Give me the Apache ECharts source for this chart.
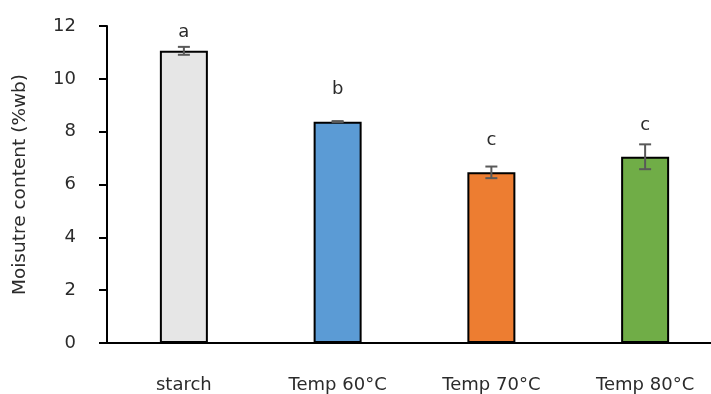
<!DOCTYPE html>
<html><head><meta charset="utf-8">
<script src="https://cdn.jsdelivr.net/npm/echarts@6/dist/echarts.min.js"></script>
<style>html,body{margin:0;padding:0;background:#fff}#c{width:711px;height:394px}</style>
</head><body><div id="c"></div>
<script>
const categories = ['starch', 'Temp 60°C', 'Temp 70°C', 'Temp 80°C'];
const values = [11.06, 8.38, 6.46, 7.05];
const errors = [0.15, 0.02, 0.22, 0.47];
const letters = ['a', 'b', 'c', 'c'];
const letterPos = [11.75, 9.6, 7.67, 8.24];
const barColors = ['#e6e6e6', '#5b9bd5', '#ed7d31', '#70ad47'];
const yTicks = [0, 2, 4, 6, 8, 10, 12];

const font = 'DejaVu Sans, sans-serif';
const txt = '#2b2b2b';
const chart = echarts.init(document.getElementById('c'), null, {renderer: 'canvas'});
chart.setOption({
  animation: false,
  grid: {left: 107, width: 615, top: 26, bottom: 51, containLabel: false, outerBoundsMode: 'none'},
  xAxis: {
    type: 'category', data: categories,
    axisLine: {lineStyle: {color: '#000', width: 2}},
    axisTick: {show: false},
    axisLabel: {color: txt, fontSize: 18, fontFamily: font, margin: 33}
  },
  yAxis: {
    type: 'value', min: yTicks[0], max: yTicks[yTicks.length - 1], interval: 2,
    name: 'Moisutre content (%wb)', nameLocation: 'middle', nameGap: 77,
    nameTextStyle: {color: txt, fontSize: 18.5, fontFamily: font},
    axisLine: {show: true, lineStyle: {color: '#000', width: 2}},
    axisTick: {show: true, length: 8, lineStyle: {color: '#000', width: 2}},
    axisLabel: {color: txt, fontSize: 18, fontFamily: font, margin: 31},
    splitLine: {show: false}
  },
  series: [
    {
      type: 'bar', barWidth: 48,
      data: values.map((v, i) => ({value: v, itemStyle: {color: barColors[i], borderColor: '#000', borderWidth: 2}}))
    },
    {
      type: 'custom', z: 5,
      data: values.map((v, i) => [i, v - errors[i], v + errors[i]]),
      renderItem: function (params, api) {
        const lo = api.coord([api.value(0), api.value(1)]);
        const hi = api.coord([api.value(0), api.value(2)]);
        const x = lo[0], hw = 6;
        const st = {stroke: '#595959', lineWidth: 2};
        return {type: 'group', children: [
          {type: 'line', shape: {x1: x, y1: lo[1], x2: x, y2: hi[1]}, style: st},
          {type: 'line', shape: {x1: x - hw, y1: lo[1], x2: x + hw, y2: lo[1]}, style: st},
          {type: 'line', shape: {x1: x - hw, y1: hi[1], x2: x + hw, y2: hi[1]}, style: st}
        ]};
      }
    },
    {
      type: 'custom', z: 6,
      data: letterPos.map((v, i) => [i, v, letters[i]]),
      renderItem: function (params, api) {
        const p = api.coord([api.value(0), api.value(1)]);
        return {type: 'text', x: p[0], y: p[1], style: {
          text: letters[params.dataIndex], fill: txt, fontSize: 18, fontFamily: font,
          align: 'center', verticalAlign: 'middle'}};
      }
    }
  ]
});
</script></body></html>
